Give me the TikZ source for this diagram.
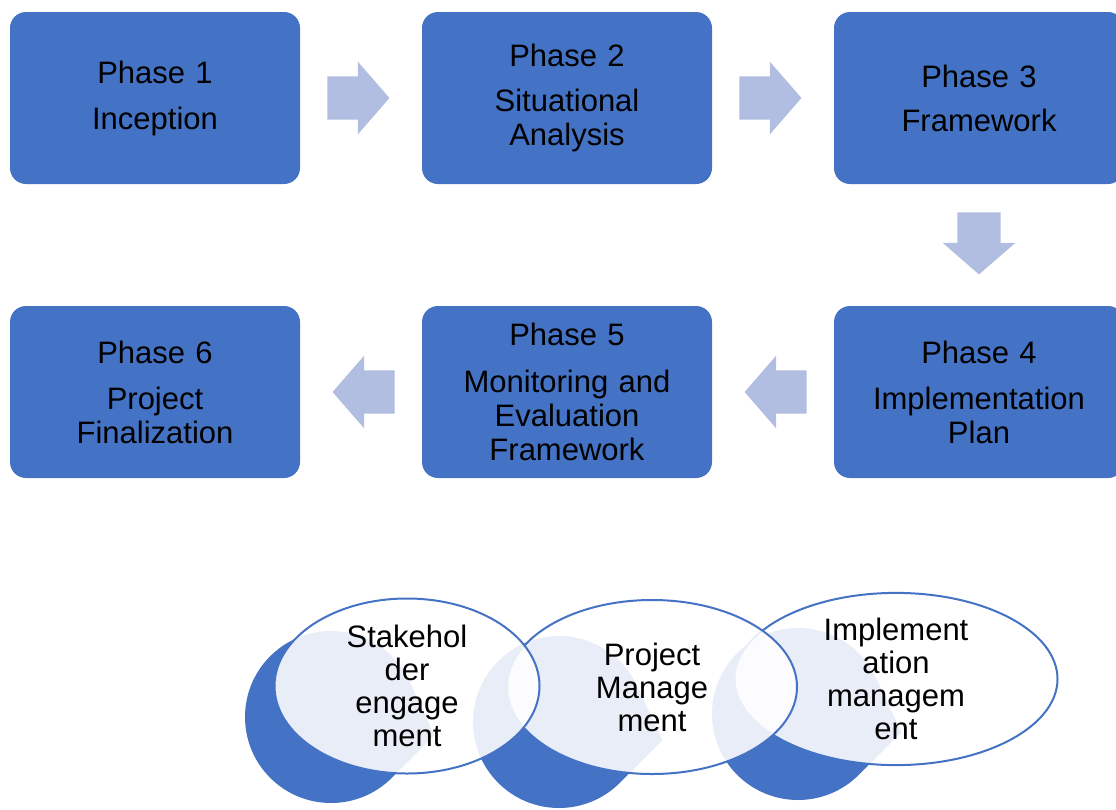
\documentclass[tikz,border=0pt]{standalone}
\usepackage{fontspec}
\setmainfont{Liberation Sans}
\usepackage{tikz}
\usetikzlibrary{shapes.geometric, shapes.arrows, positioning, calc}
\usepackage{xcolor}
\definecolor{phaseblue}{RGB}{68,114,196}
\definecolor{arrowblue}{RGB}{177,189,225}
\tikzstyle{phase} = [rectangle, fill=phaseblue, rounded corners=16pt, minimum width=290pt, minimum height=172pt, text width=280pt, align=center, inner sep=0pt, font=\fontsize{31}{34}\selectfont]
\tikzstyle{flow} = [single arrow, fill=arrowblue, inner sep=0pt, text height=43pt, text depth=0pt, minimum height=62pt, single arrow head extend=14.5pt, single arrow tip angle=98]
\tikzstyle{focus} = [ellipse, draw=phaseblue, line width=2pt, fill=white, fill opacity=0.88, text opacity=1, inner sep=0pt, align=center, font=\fontsize{31}{33}\selectfont]

\begin{document}
\begin{tikzpicture}[x=1pt, y=-1pt, node distance=412pt]
    \useasboundingbox (0,0) rectangle (1116,809);
    % Place phases
    \node [phase] (phase1) at (155,98) {Phase 1\\[12pt]Inception};
    \node [phase, right of=phase1] (phase2) {Phase 2\\[11pt]Situational\\Analysis};
    \node [phase, right of=phase2] (phase3) {Phase 3\\[10pt]Framework};
    \node [phase, below of=phase3, node distance=294pt] (phase4) {Phase 4\\[12pt]Implementation\\Plan};
    \node [phase, left of=phase4] (phase5) {Phase 5\\[13pt]Monitoring and\\Evaluation\\Framework};
    \node [phase, left of=phase5] (phase6) {Phase 6\\[12pt]Project\\Finalization};

    % Block arrows between phases
    \node [flow] (step12) at ($(phase1)!0.5!(phase2)+(-12,0)$) {};
    \node [flow] (step23) at ($(phase2)!0.5!(phase3)+(-12,0)$) {};
    \node [flow, rotate=270] (step34) at ($(phase3)!0.5!(phase4)+(0,-11)$) {};
    \node [flow, rotate=180] (step45) at ($(phase4)!0.5!(phase5)+(12,0)$) {};
    \node [flow, rotate=180] (step56) at ($(phase5)!0.5!(phase6)+(12,0)$) {};

    % Drops behind the ellipses
    \foreach \cx/\cy in {331/717, 559/722, 798/714}
        \fill [phaseblue, shift={(\cx,\cy)}, rotate=-10] (35:86) arc[start angle=35, end angle=325, radius=86] -- (105,0) -- cycle;

    % Ellipses, last one first
    \node [focus, minimum width=323pt, minimum height=162pt] (implement) at (896,679) {Implement\\ation\\managem\\ent};
    \node [focus, minimum width=290pt, minimum height=174pt] (manage) at (652,687) {Project\\Manage\\ment};
    \node [focus, minimum width=265pt, minimum height=175pt] (stake) at (407,686) {Stakehol\\der\\engage\\ment};
\end{tikzpicture}
\end{document}
